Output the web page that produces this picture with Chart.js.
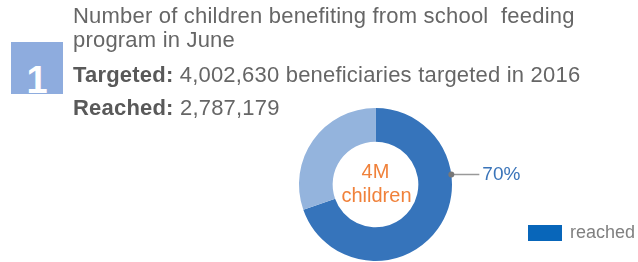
<!DOCTYPE html>
<html>
<head>
<meta charset="utf-8">
<script src="https://cdn.jsdelivr.net/npm/chart.js@4"></script>
<style>
  body { margin: 0; background: #fff; font-family: "Liberation Sans", Arial, sans-serif; }
  #wrap { position: relative; width: 638px; height: 262px; overflow: hidden; }
  #canvas { position: absolute; left: 0; top: 0; }
  .t { position: absolute; left: 73px; color: #666; font-size: 22px; letter-spacing: 0.2px; white-space: nowrap; }
  .t b { color: #595959; }
  #badge { position: absolute; left: 11px; top: 42px; width: 52px; height: 52px; overflow: hidden; background: #8eacde;
    color: #fff; font-weight: bold; font-size: 38px; text-align: center; line-height: 76px; }
</style>
</head>
<body>
<div id="wrap">
  <canvas id="canvas" width="638" height="262"></canvas>
  <div id="badge">1</div>
  <div class="t" style="top:4px;line-height:24px">Number of children benefiting from school&nbsp; feeding<br>program in June</div>
  <div class="t" style="top:62px"><b>Targeted:</b> 4,002,630 beneficiaries targeted in 2016</div>
  <div class="t" style="top:95px"><b>Reached:</b> 2,787,179</div>
</div>
<script>
// doughnut data
var labels = ['reached', 'not reached'];
var values = [2787179, 1215451];
var colors = ['#3674bb', '#94b4dd'];
var centerLines = ['4M', 'children'];
var pctLabel = '70%';

var extras = {
  id: 'extras',
  afterDraw: function(chart) {
    var ctx = chart.ctx;
    var arc = chart.getDatasetMeta(0).data[0];
    var cx = arc.x, cy = arc.y;
    // center text
    ctx.save();
    ctx.fillStyle = '#f0813a';
    ctx.font = '20px "Liberation Sans", Arial, sans-serif';
    ctx.textAlign = 'center';
    ctx.textBaseline = 'middle';
    ctx.fillText(centerLines[0], cx, cy - 12);
    ctx.fillText(centerLines[1], cx + 1, cy + 12);
    // leader line to percentage
    var r = arc.outerRadius;
    var ly = cy - 10;
    var lx = cx + Math.sqrt(r * r - 100);
    ctx.strokeStyle = '#999';
    ctx.lineWidth = 1.5;
    ctx.beginPath();
    ctx.moveTo(lx, ly);
    ctx.lineTo(lx + 28, ly);
    ctx.stroke();
    ctx.fillStyle = '#777';
    ctx.beginPath();
    ctx.arc(lx, ly, 3, 0, Math.PI * 2);
    ctx.fill();
    ctx.fillStyle = '#3a74b9';
    ctx.font = '19px "Liberation Sans", Arial, sans-serif';
    ctx.textAlign = 'left';
    ctx.fillText(pctLabel, lx + 31, ly);
    // legend
    ctx.fillStyle = '#0866ba';
    ctx.fillRect(528, 225, 34, 16);
    ctx.fillStyle = '#808080';
    ctx.font = '18px "Liberation Sans", Arial, sans-serif';
    ctx.fillText(labels[0], 570, 233);
    ctx.restore();
  }
};

new Chart(document.getElementById('canvas').getContext('2d'), {
  type: 'doughnut',
  data: {
    labels: labels,
    datasets: [{
      data: values,
      backgroundColor: colors,
      borderWidth: 0
    }]
  },
  options: {
    responsive: false,
    animation: false,
    events: [],
    cutout: '56%',
    layout: { padding: { left: 299, right: 186, top: 108, bottom: 1 } },
    plugins: { legend: { display: false }, tooltip: { enabled: false } }
  },
  plugins: [extras]
});
</script>
</body>
</html>
